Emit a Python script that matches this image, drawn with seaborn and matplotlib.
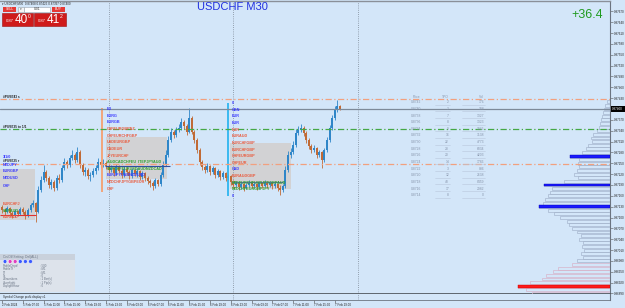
import numpy as np
import pandas as pd
import matplotlib
matplotlib.use("Agg")
import matplotlib.pyplot as plt
from matplotlib.patches import Rectangle, Circle
import seaborn as sns

# ---------------- values ----------------
title_text = "USDCHF M30"
profit_text = "+36.4"
header_text = "USDCHF,M30  0.87408 0.87425 0.87397 0.87400"

# M30 candles, prices in points (1e-5)
first_open = 87129
close_pts = [87121, 87115, 87126, 87112, 87107, 87118, 87110, 87124, 87115, 87104,
             87121, 87135, 87140, 87115, 87176, 87204, 87226, 87209, 87190, 87198,
             87182, 87209, 87204, 87237, 87254, 87245, 87265, 87273, 87259, 87281,
             87245, 87226, 87232, 87215, 87218, 87229, 87237, 87254, 87245, 87251,
             87243, 87232, 87237, 87223, 87240, 87229, 87218, 87234, 87226, 87215,
             87232, 87220, 87229, 87212, 87223, 87209, 87201, 87196, 87187, 87204,
             87193, 87218, 87245, 87273, 87314, 87337, 87328, 87342, 87348, 87364,
             87353, 87337, 87375, 87337, 87314, 87287, 87254, 87240, 87232, 87243,
             87226, 87237, 87218, 87229, 87212, 87223, 87209, 87215, 87198, 87190,
             87196, 87184, 87193, 87182, 87190, 87198, 87187, 87193, 87184, 87196,
             87187, 87198, 87190, 87196, 87187, 87193, 87182, 87176, 87187, 87232,
             87273, 87281, 87301, 87334, 87342, 87348, 87334, 87314, 87298, 87287,
             87292, 87273, 87281, 87259, 87287, 87314, 87348, 87375, 87397, 87408,
             87400]
high_pts = [87135, 87126, 87132, 87129, 87118, 87124, 87121, 87129, 87129, 87121,
            87126, 87140, 87148, 87143, 87187, 87215, 87245, 87232, 87215, 87207,
            87204, 87218, 87220, 87245, 87265, 87259, 87273, 87287, 87278, 87295,
            87287, 87251, 87240, 87237, 87226, 87237, 87245, 87265, 87259, 87262,
            87256, 87248, 87245, 87240, 87248, 87245, 87234, 87243, 87240, 87232,
            87237, 87234, 87237, 87232, 87229, 87226, 87215, 87207, 87201, 87209,
            87207, 87226, 87256, 87287, 87325, 87348, 87342, 87350, 87359, 87375,
            87370, 87359, 87403, 87381, 87342, 87320, 87292, 87259, 87245, 87251,
            87245, 87243, 87240, 87234, 87232, 87229, 87226, 87220, 87218, 87204,
            87201, 87198, 87198, 87196, 87196, 87204, 87201, 87198, 87196, 87201,
            87198, 87204, 87201, 87201, 87198, 87198, 87196, 87190, 87193, 87243,
            87284, 87292, 87312, 87345, 87353, 87359, 87353, 87339, 87320, 87303,
            87301, 87295, 87287, 87284, 87292, 87323, 87356, 87384, 87408, 87425,
            87411]
low_pts = [87112, 87107, 87112, 87104, 87099, 87101, 87104, 87107, 87110, 87096,
           87101, 87115, 87129, 87087, 87112, 87171, 87198, 87201, 87182, 87179,
           87173, 87176, 87196, 87198, 87232, 87237, 87240, 87259, 87251, 87254,
           87237, 87218, 87215, 87207, 87201, 87212, 87220, 87232, 87237, 87240,
           87234, 87223, 87226, 87215, 87218, 87223, 87209, 87212, 87218, 87207,
           87209, 87215, 87212, 87204, 87207, 87201, 87193, 87184, 87176, 87182,
           87187, 87187, 87212, 87243, 87267, 87309, 87320, 87323, 87337, 87342,
           87345, 87328, 87334, 87331, 87306, 87278, 87245, 87232, 87223, 87226,
           87218, 87220, 87209, 87212, 87204, 87207, 87201, 87204, 87190, 87182,
           87184, 87176, 87179, 87173, 87179, 87184, 87182, 87182, 87176, 87179,
           87182, 87184, 87182, 87184, 87179, 87182, 87173, 87162, 87171, 87182,
           87226, 87265, 87276, 87295, 87328, 87337, 87325, 87306, 87290, 87278,
           87281, 87265, 87267, 87237, 87254, 87281, 87309, 87342, 87370, 87392,
           87397]

time_labels = ["2 Feb 2024", "5 Feb 07:00", "5 Feb 11:00", "5 Feb 15:00", "5 Feb 19:00",
               "5 Feb 23:00", "6 Feb 03:00", "6 Feb 07:00", "6 Feb 11:00", "6 Feb 15:00",
               "6 Feb 19:00", "6 Feb 23:00", "7 Feb 03:00", "7 Feb 07:00", "7 Feb 11:00",
               "7 Feb 15:00", "7 Feb 19:00"]
time_label_bars = [0, 8, 16, 24, 32, 40, 48, 56, 64, 72, 80, 88, 96, 104, 112, 120, 128]
day_separator_bars = [41, 89, 137]

current_price = 0.87400
level_prices = [0.87428, 0.87345, 0.87248]
level_colors = ["#f2a07e", "#45a845", "#f2a07e"]
level_labels = ["#PIV8743 s", "#PIV8735 to 1/1", "#PIV8725 r"]

# volume profile (right side)
profile_levels = [0.8742, 0.8741, 0.8740, 0.8739, 0.8738, 0.8737, 0.8736, 0.8735, 0.8734, 0.8733,
                  0.8732, 0.8731, 0.8730, 0.8729, 0.8728, 0.8727, 0.8726, 0.8725, 0.8724, 0.8723,
                  0.8722, 0.8721, 0.8720, 0.8719, 0.8718, 0.8717, 0.8716, 0.8715, 0.8714, 0.8713,
                  0.8712, 0.8711, 0.8710, 0.8709, 0.8708, 0.8707, 0.8706, 0.8705, 0.8704, 0.8703,
                  0.8702, 0.8701, 0.8700, 0.8699, 0.8698, 0.8697, 0.8696, 0.8695, 0.8694, 0.8693,
                  0.8692, 0.8691, 0.8690, 0.8689]
profile_volume = [3, 5, 6, 7, 8, 9, 10, 11, 13, 17,
                  19, 18, 22, 24, 28, 40, 31, 32, 31, 33,
                  36, 32, 46, 66, 58, 60, 62, 65, 67, 71,
                  62, 56, 50, 43, 41, 38, 33, 29, 31, 27,
                  28, 26, 29, 27, 33, 38, 52, 57, 64, 68,
                  80, 92, 84, 78]
profile_blue_levels = [0.8727, 0.8719, 0.8713]
profile_red_levels = [0.8691]

# zones (start bar, end bar, top price, bottom price)
zones = [(-0.8, 12.7, 0.87234, 0.87093), (40.0, 63.5, 0.87323, 0.87207), (87.7, 111.2, 0.87306, 0.87179)]
vmarkers = [(38.5, 0.87403, 0.87171, "#f5a070"), (86.9, 0.87417, 0.87160, "#2fb6f0")]
segments = [(39.6, 64.6, 0.87243, "#3050a0"), (88.5, 108.0, 0.87198, "#5a6fa0"), (-0.8, 13.0, 0.87107, "#e03030")]

table_header = ["Price", "TPO", "Vol"]
table_price = ["0.8742", "0.8740", "0.8738", "0.8736", "0.8734", "0.8732", "0.8730", "0.8728",
               "0.8726", "0.8724", "0.8722", "0.8720", "0.8718", "0.8716", "0.8714"]
table_tpo = [2, 2, 7, 8, 9, 16, 22, 28, 20, 14, 3, 12, 48, 17, 8]
table_vol = [176, 188, 1327, 1323, 1945, 3138, 4773, 6834, 4203, 1786, 886, 2638, 8459, 2982, 0]

BLUE, RED, GREEN = "#3a3aff", "#ea5a3c", "#2e9e2e"
left_col = [("3/1/0", BLUE, 157), ("NZDJPY", BLUE, 165.5), ("EURGBP", BLUE, 170.8), ("NZDUSD", BLUE, 178),
            ("CHF", BLUE, 186), ("EURCHFJ", RED, 204), ("GBPAUD", GREEN, 210.5), ("EURNZD", RED, 217)]
col1 = [("EU", BLUE), ("EURG", BLUE), ("EURGB", BLUE), ("CHFEURGBPNZ", RED), ("CHFEURCHFGBP", RED),
        ("USDEURGBP", RED), ("CADEUR", RED), ("JPYEURCHF", RED), ("AUDCADCHFEU  ITEPJPYAUD", GREEN),
        ("GBPCHFEURUSDAUDNZDCAD", GREEN), ("EURJPYCADNZDUSD", BLUE), ("NZDCHFJPYGBPEUR", RED), ("CHF", RED)]
col2 = [("0", BLUE), ("GBN", BLUE), ("EUR", BLUE), ("EUR", BLUE), ("EUR", RED), ("EURAUD", RED),
        ("EURCHFGBP", RED), ("EURCHFGBP", RED), ("CHFEURGBP", RED), ("CHFEUR", RED), ("CAD", BLUE),
        ("EURAUDGBP", RED), ("NZDEURCHFUSDJPYGBPAUD", GREEN), ("NZDCHFEURGBPJPY", GREEN), ("0", BLUE)]
panel_header = "On/Off Setting: Del(ALL)"
panel_rows = [("ProfileDeptf", ": 500"), ("ProfileTf", ": M1"), ("Tf", ": M1"), ("Tz", ": 0"),
              ("ZBnumbers", ": 1 Bar(s)"), ("Zoomlight", ": 1 Pip(s)"), ("DaylightHour", ": 0")]
panel_dot_colors = ["#3b5bff", "#e040c0", "#e040c0", "#3b5bff", "#3b5bff", "#3b5bff"]
strip_text = "Symbol Change profit display v1"

# ---------------- drawing ----------------
sns.set_theme(style="white")
plt.rcParams["font.family"] = ["Liberation Sans", "DejaVu Sans"]
BG = "#d3e6f9"
W, H = 625, 308
fig = plt.figure(figsize=(6.25, 3.08), dpi=100, facecolor=BG)

def fx(x):
    return x / W

def fy(y):
    return 1 - y / H

# main price axes: pixel rows 1..294, columns 0..610
ax = fig.add_axes([0, fy(294), fx(610), (294 - 1) / H], facecolor=BG)
ylo, yhi = 0.868886, 0.876987
xlo, xhi = -0.769, 233.85

bars = np.arange(len(close_pts))
close = np.array(close_pts) / 1e5
opens = np.array([first_open] + close_pts[:-1]) / 1e5
high = np.array(high_pts) / 1e5
low = np.array(low_pts) / 1e5
up = close >= opens
col = np.where(up, "#2f86c8", "#c06a36")

for (x0, x1, top, bot) in zones:
    ax.add_patch(Rectangle((x0, bot), x1 - x0, top - bot, facecolor="#d2d2d4", edgecolor="none", zorder=0.5))

for i in day_separator_bars:
    ax.axvline(i, color="#7c8896", ls=(0, (1, 1.6)), lw=0.6, zorder=0.6)

ax.vlines(bars, low, high, colors=col, lw=0.6, zorder=2)
body = np.where(np.abs(close - opens) < 1e-6, 0.00002, close - opens)
ax.bar(bars, body, bottom=opens, width=0.72, color=col, edgecolor="none", zorder=3)

for (xv, top, bot, c) in vmarkers:
    ax.vlines(xv, bot, top, colors=c, lw=1.3, zorder=4)
for (x0, x1, yv, c) in segments:
    ax.hlines(yv, x0, x1, colors=c, lw=0.8, zorder=4)

ax.set_xlim(xlo, xhi)
ax.set_ylim(ylo, yhi)
ticks = np.round(0.87670 - 0.0003 * np.arange(27), 5)
ticks = ticks[np.abs(ticks - current_price) > 0.0001]
ax.yaxis.tick_right()
ax.set_yticks(ticks)
ax.set_yticklabels([f"{t:.5f}" for t in ticks], fontsize=2.2, color="#222222")
ax.tick_params(axis="y", length=2, width=0.4, pad=1, color="#555555", right=True, left=False)
ax.set_xticks([])
ax.spines["left"].set_visible(False)
ax.spines["right"].set_color("#6b7480")
ax.spines["right"].set_linewidth(0.8)
ax.spines["top"].set_color("#8a9099")
ax.spines["top"].set_linewidth(1.0)
ax.spines["bottom"].set_color("#4a5058")
ax.spines["bottom"].set_linewidth(1.2)

# volume profile on a twin axis sharing the price scale
ax2 = ax.twiny()
prof = pd.DataFrame({"level": profile_levels, "volume": profile_volume})
prof["tone"] = np.where(prof["level"] <= 0.86975, "lower", "upper")
sns.barplot(data=prof, x="volume", y="level", hue="tone", orient="y", native_scale=True,
            palette={"upper": "#a6b6ce", "lower": "#d7b4ca"}, fill=False, linewidth=0.5,
            errorbar=None, legend=False, ax=ax2)
vol_map = dict(zip(profile_levels, profile_volume))
ax2.barh(profile_blue_levels, [vol_map[l] for l in profile_blue_levels], height=0.00008,
         color="#1a1aff", edgecolor="#0000b0", lw=0.3, zorder=5)
ax2.barh(profile_red_levels, [vol_map[l] for l in profile_red_levels], height=0.00008,
         color="#ff1a1a", edgecolor="#c00000", lw=0.3, zorder=5)
for p, c in zip(level_prices, level_colors):
    ax2.axhline(p, color=c, ls=(0, (5, 2, 1, 2)), lw=0.9, zorder=6)
ax2.axhline(current_price, color="#7d8a99", lw=0.9, zorder=6)
ax2.set_xlim(610, 0)
ax2.set_ylim(ylo, yhi)
ax2.set_xticks([])
ax2.set_xlabel("")
ax2.set_ylabel("")
for s in ax2.spines.values():
    s.set_visible(False)
ax.set_ylabel("")

# sub window with the time scale
sub = fig.add_axes([0, fy(300), fx(610), 6 / H], facecolor=BG)
sub.set_xlim(xlo, xhi)
sub.set_yticks([])
sub.set_xticks(time_label_bars)
sub.set_xticklabels(time_labels, fontsize=2.2, ha="left", color="#222222")
sub.tick_params(axis="x", length=1.8, width=0.4, pad=0.6, color="#444444", bottom=True)
for i in day_separator_bars:
    sub.axvline(i, color="#7c8896", ls=(0, (1, 1.6)), lw=0.6)
for s in ["top", "left"]:
    sub.spines[s].set_visible(False)
sub.spines["right"].set_color("#6b7480")
sub.spines["right"].set_linewidth(0.8)
sub.spines["bottom"].set_color("#6b7480")
sub.spines["bottom"].set_linewidth(0.6)

# overlay in pixel coordinates for the terminal widgets and texts
ov = fig.add_axes([0, 0, 1, 1])
ov.set_xlim(0, W)
ov.set_ylim(H, 0)
ov.axis("off")
ov.patch.set_alpha(0)

def box(x, y, w, h, fc, ec="none", lw=0.4, z=7):
    ov.add_patch(Rectangle((x, y), w, h, facecolor=fc, edgecolor=ec, lw=lw, zorder=z))

def t(x, y, s, size, color="#222222", ha="left", va="center", **kw):
    ov.text(x, y, s, fontsize=size, color=color, ha=ha, va=va, zorder=9, **kw)

t(2, 3.6, "\u25be " + header_text, 2.2)
# one click trading panel
box(3, 6.5, 13, 5.5, "#e53935")
t(9.5, 9.3, "SELL", 2.4, "white", ha="center")
box(17.5, 6.5, 6, 5.5, "#f4f4f4", "#9aa4ae")
t(20.5, 9.3, "\u25be", 2.4, "#555555", ha="center")
box(24, 6.5, 26, 5.5, "#ffffff", "#9aa4ae")
t(37, 9.3, "0.01", 2.4, "#333333", ha="center")
box(52, 6.5, 13, 5.5, "#e53935")
t(58.5, 9.3, "BUY", 2.4, "white", ha="center")
box(2, 13, 31, 12.5, "#cf1b1b", "#9c0f0f")
box(34, 13, 31.5, 12.5, "#cf1b1b", "#9c0f0f")
t(5.5, 21.5, "0.87", 3.0, "white")
t(14.5, 19.6, "40", 8.5, "white")
t(27.5, 16.0, "0", 3.6, "white")
t(37.5, 21.5, "0.87", 3.0, "white")
t(46.5, 19.6, "41", 8.5, "white")
t(59.5, 16.0, "2", 3.6, "white")

t(197, 7.5, title_text, 8.0, "#2230e0")
t(603, 15, profit_text, 9.0, "#1f9a1f", ha="right")

# level line labels
for lab, yy in zip(level_labels, [96.5, 126.5, 161.3]):
    t(3, yy, lab, 2.3, "#222222", fontweight="bold")

# colored symbol columns
for s, c, yy in left_col:
    t(3, yy, s, 2.7, c, fontweight="bold")
for k, (s, c) in enumerate(col1):
    t(107, 109 + 6.65 * k, s, 2.7, c, fontweight="bold")
for k, (s, c) in enumerate(col2):
    t(232, 103 + 6.65 * k, s, 2.7, c, fontweight="bold")

# statistics table
TC = "#8795ab"
t(413, 97, table_header[0], 2.4, TC)
t(449, 97, table_header[1], 2.4, TC, ha="right")
t(484, 97, table_header[2], 2.4, TC, ha="right")
for k in range(len(table_price)):
    yy = 102.3 + 6.64 * k
    t(411, yy, table_price[k], 2.4, TC)
    t(449, yy, str(table_tpo[k]), 2.4, TC, ha="right")
    t(484, yy, str(table_vol[k]), 2.4, TC, ha="right")
    ov.plot([435, 450], [yy + 2.4, yy + 2.4], color="#b9c7db", lw=0.4, zorder=8)
    ov.plot([462, 485], [yy + 2.4, yy + 2.4], color="#b9c7db", lw=0.4, zorder=8)

# current price tag
box(610.5, 106, 14.5, 6, "#000000")
t(617.5, 109, f"{current_price:.5f}", 2.2, "white", ha="center")

# settings panel bottom left
box(0, 254, 75, 5.5, "#c9d1dc")
box(0, 259.5, 75, 32, "#dde3eb")
t(3, 256.8, panel_header, 2.3, "#6a7484")
for k, c in enumerate(panel_dot_colors):
    ov.add_patch(Circle((5 + 5.1 * k, 261.5), 1.9, facecolor=c, edgecolor="white", lw=0.3, zorder=8))
for k, (name, val) in enumerate(panel_rows):
    yy = 266 + 3.35 * k
    t(3, yy, name, 2.1, "#6a7484")
    t(40, yy, val, 2.1, "#6a7484")

t(3, 297.3, strip_text, 2.1, "#222222")

fig.savefig("out.png", dpi=100, facecolor=BG)
